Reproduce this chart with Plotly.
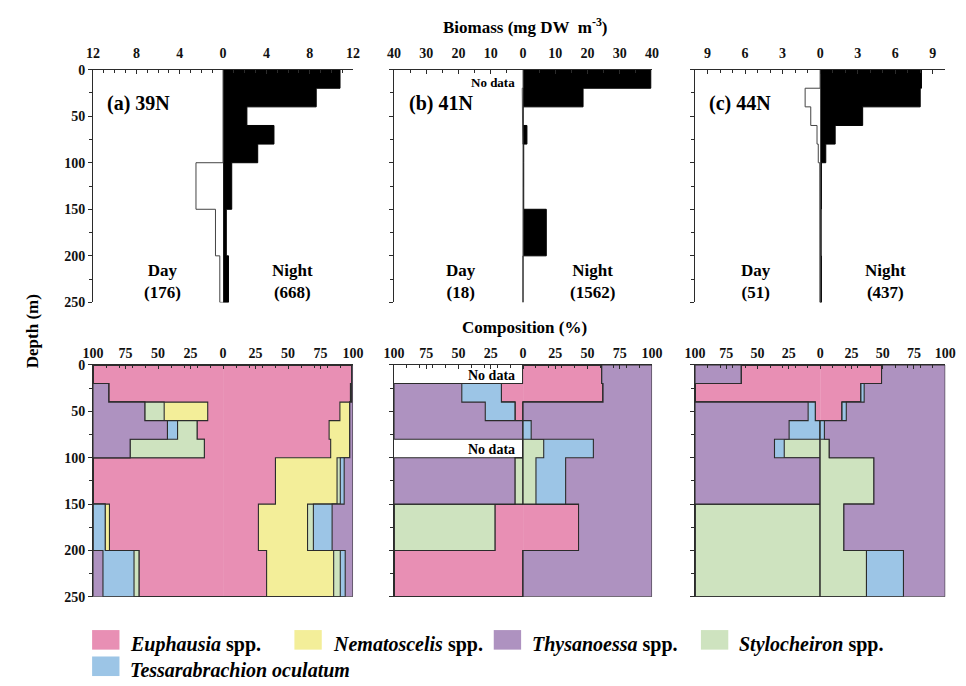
import plotly.graph_objects as go

# ---------------------------------------------------------------- data
depth_edges = [0, 20, 40, 60, 80, 100, 150, 200, 250]
depth_ticks = [0, 50, 100, 150, 200, 250]

stations = ["(a) 39N", "(b) 41N", "(c) 44N"]
day_totals = [176, 18, 51]          # integrated biomass, mg DW m-2
night_totals = [668, 1562, 437]

# Biomass (mg DW m-3) per depth layer
bio_day_39 = [0, 0, 0, 0, 0, 2.5, 0.7, 0.3]
bio_night_39 = [10.8, 8.6, 2.2, 4.7, 3.2, 0.8, 0.3, 0.5]
bio_day_41 = [0, 0.25, 0.15, 0.1, 0, 0.04, 0.08, 0.04]
bio_night_41 = [39.6, 18.6, 0.05, 1.2, 0.2, 0.2, 7.2, 0.0]
bio_day_44 = [0, 1.2, 0.75, 0.25, 0.15, 0.03, 0.02, 0.02]
bio_night_44 = [8.1, 8.0, 3.4, 1.2, 0.45, 0.1, 0.08, 0.1]

bio_max = [12, 40, 10]
bio_tickvals = [[-12, -8, -4, 0, 4, 8, 12],
                [-40, -30, -20, -10, 0, 10, 20, 30, 40],
                [-9, -6, -3, 0, 3, 6, 9]]
bio_ticktext = [["12", "8", "4", "0", "4", "8", "12"],
                ["40", "30", "20", "10", "0", "10", "20", "30", "40"],
                ["9", "6", "3", "0", "3", "6", "9"]]
bio_minor = [1, 5, 1]

comp_tickvals = [-100, -75, -50, -25, 0, 25, 50, 75, 100]
comp_ticktext = ["100", "75", "50", "25", "0", "25", "50", "75", "100"]

# Composition (%) per depth layer; all-zero layers have no data
euph_day_39 = [100, 88, 11.8, 20, 14.4, 100, 87.4, 64.7]
nema_day_39 = [0, 0, 33.5, 0, 0, 0, 3.3, 0]
stylo_day_39 = [0, 0, 14.9, 15, 57.1, 0, 0, 3.8]
tess_day_39 = [0, 0, 0, 7.8, 0, 0, 9.3, 23.9]
thys_day_39 = [0, 12, 39.8, 57.2, 28.5, 0, 0, 7.6]

euph_night_39 = [99, 98, 89.9, 81.6, 82.8, 40.3, 27.2, 33.5]
nema_night_39 = [0, 1, 7.6, 15.9, 14.7, 47.4, 37.8, 51.6]
stylo_night_39 = [0, 0, 0, 0, 0, 2.5, 4.5, 5.1]
tess_night_39 = [0, 0, 0, 0, 0, 3.0, 14.4, 3.8]
thys_night_39 = [1, 1, 2.5, 2.5, 2.5, 6.8, 16.1, 6.0]

euph_day_41 = [0, 16.8, 6.3, 0, 0, 0, 21.8, 100]
nema_day_41 = [0, 0, 0, 0, 0, 0, 0, 0]
stylo_day_41 = [0, 0, 0, 0, 0, 6.3, 78.2, 0]
tess_day_41 = [0, 30.7, 23.0, 0, 0, 0, 0, 0]
thys_day_41 = [0, 52.5, 70.7, 100, 0, 93.7, 0, 0]

euph_night_41 = [61, 62, 0, 0, 0, 0, 43, 0]
nema_night_41 = [0, 0, 0, 0, 0, 0, 0, 0]
stylo_night_41 = [0, 0, 0, 0, 16, 10, 0, 0]
tess_night_41 = [0, 0, 0, 6.3, 38.5, 23, 0, 0]
thys_night_41 = [39, 38, 100, 93.7, 45.5, 67, 57, 100]

euph_day_44 = [63.2, 100, 3.9, 0, 0, 0, 0, 0]
nema_day_44 = [0, 0, 0, 0, 0, 0, 0, 0]
stylo_day_44 = [0, 0, 0, 0, 28.7, 0, 100, 100]
tess_day_44 = [0, 0, 5.7, 24.8, 7.8, 0, 0, 0]
thys_day_44 = [36.8, 0, 90.4, 75.2, 63.5, 100, 0, 0]

euph_night_44 = [49.1, 32.6, 17.5, 0, 0, 0, 0, 0]
nema_night_44 = [0, 0, 0, 0, 0, 0, 0, 0]
stylo_night_44 = [0, 0, 0, 0, 7.3, 43, 19, 37]
tess_night_44 = [0, 2.6, 3.4, 3.4, 0, 0, 0, 29.6]
thys_night_44 = [50.9, 64.8, 79.1, 96.6, 92.7, 57, 81, 33.4]

species_names = ["<i>Euphausia</i> spp.", "<i>Nematoscelis</i> spp.",
                 "<i>Thysanoessa</i> spp.", "<i>Stylocheiron</i> spp.",
                 "<i>Tessarabrachion oculatum</i>"]
species_colors = {"euph": "#E88FB4", "nema": "#F3EE99", "thys": "#AE92C0",
                  "stylo": "#CEE3BF", "tess": "#9CC5E6"}

# ---------------------------------------------------------------- helpers
W, H = 966, 686
FONT = "Liberation Serif"
LINE = "#2b2b2b"


def px(x):
    return x / W


def py(y):
    return 1 - y / H


def step_path(vals, sign):
    """Step outline of a depth profile, closed back to x=0 at both ends."""
    xs, ys = [0], [depth_edges[0]]
    for i, v in enumerate(vals):
        xs += [sign * v, sign * v]
        ys += [depth_edges[i], depth_edges[i + 1]]
    xs.append(0)
    ys.append(depth_edges[-1])
    return xs, ys


x_domains = [[px(84), px(350)], [px(392), px(656)], [px(700), px(956)]]
top_domain = [py(302), py(64)]
bot_domain = [py(603), py(366)]

fig = go.Figure()

# ---------------------------------------------------------------- biomass
bio_day = [bio_day_39, bio_day_41, bio_day_44]
bio_night = [bio_night_39, bio_night_41, bio_night_44]
for k in range(3):
    ax = "" if k == 0 else str(k + 1)
    xs, ys = step_path(bio_night[k], 1)
    fig.add_trace(go.Scatter(x=xs, y=ys, mode="lines", fill="tozerox",
                             fillcolor="black", line=dict(color="black", width=1),
                             xaxis="x" + ax, yaxis="y" + ax, showlegend=False,
                             hoverinfo="skip"))
    xs, ys = step_path(bio_day[k], -1)
    fig.add_trace(go.Scatter(x=xs, y=ys, mode="lines", fill="tozerox",
                             fillcolor="white", line=dict(color="#444", width=1),
                             xaxis="x" + ax, yaxis="y" + ax, showlegend=False,
                             hoverinfo="skip"))

# ---------------------------------------------------------------- composition
comp = {
    0: {"day": [("euph", euph_day_39), ("nema", nema_day_39), ("stylo", stylo_day_39),
                ("tess", tess_day_39), ("thys", thys_day_39)],
        "night": [("euph", euph_night_39), ("nema", nema_night_39), ("stylo", stylo_night_39),
                  ("tess", tess_night_39), ("thys", thys_night_39)]},
    1: {"day": [("euph", euph_day_41), ("nema", nema_day_41), ("stylo", stylo_day_41),
                ("tess", tess_day_41), ("thys", thys_day_41)],
        "night": [("euph", euph_night_41), ("nema", nema_night_41), ("stylo", stylo_night_41),
                  ("tess", tess_night_41), ("thys", thys_night_41)]},
    2: {"day": [("euph", euph_day_44), ("nema", nema_day_44), ("stylo", stylo_day_44),
                ("tess", tess_day_44), ("thys", thys_day_44)],
        "night": [("euph", euph_night_44), ("nema", nema_night_44), ("stylo", stylo_night_44),
                  ("tess", tess_night_44), ("thys", thys_night_44)]},
}
for k in range(3):
    ax = str(k + 4)
    for side, sign in (("day", -1), ("night", 1)):
        cum = [0.0] * len(depth_edges[:-1])
        for j, (sp, vals) in enumerate(comp[k][side]):
            cum = [c + v for c, v in zip(cum, vals)]
            xs, ys = step_path(cum, sign)
            fig.add_trace(go.Scatter(
                x=xs, y=ys, mode="lines",
                fill="tozerox" if j == 0 else "tonextx",
                fillcolor=species_colors[sp],
                line=dict(color=LINE, width=1.1),
                xaxis="x" + ax, yaxis="y" + ax, showlegend=False, hoverinfo="skip"))

# ---------------------------------------------------------------- axes
tickfont = dict(family=FONT, size=14, color="#111", weight="bold")
layout_axes = {}
for i in range(6):
    k = i % 3
    top = i < 3
    n = "" if i == 0 else str(i + 1)
    if top:
        xr = [-bio_max[k], bio_max[k]]
        tv, tt, mdt = bio_tickvals[k], bio_ticktext[k], bio_minor[k]
    else:
        xr = [-100, 100]
        tv, tt, mdt = comp_tickvals, comp_ticktext, 10
    layout_axes["xaxis" + n] = dict(
        domain=x_domains[k], range=xr, side="top", anchor="y" + n,
        showline=True, linecolor=LINE, linewidth=1.3, mirror=False,
        ticks="inside", ticklen=4, tickcolor=LINE, tickwidth=1.3,
        tickmode="array", tickvals=tv, ticktext=tt, tickfont=tickfont,
        ticklabelstandoff=5 if top else 0,
        minor=dict(tickmode="linear", tick0=0, dtick=mdt, ticks="inside",
                   ticklen=3, tickcolor=LINE, tickwidth=1.2),
        showgrid=False, zeroline=False, fixedrange=True)
    layout_axes["yaxis" + n] = dict(
        domain=top_domain if top else bot_domain, range=[250, 0], anchor="x" + n,
        showline=True, linecolor=LINE, linewidth=1.3,
        ticks="outside", ticklen=4, tickcolor=LINE, tickwidth=1.3,
        tickmode="array", tickvals=depth_ticks, tickfont=tickfont,
        showticklabels=(k == 0),
        minor=dict(tickmode="linear", tick0=0, dtick=25, ticks="outside",
                   ticklen=3, tickcolor=LINE, tickwidth=1.2),
        showgrid=False, zeroline=False, fixedrange=True)
    # centre (zero) line of each panel
    layout_axes["yaxis" + str(i + 7)] = dict(
        overlaying="y" + n, anchor="free",
        position=(x_domains[k][0] + x_domains[k][1]) / 2,
        range=[250, 0], showline=True,
        linecolor=LINE if top else "rgba(70,40,60,0.6)", linewidth=1.2 if top else 1,
        ticks="outside" if top else "", ticklen=4, tickcolor=LINE,
        tickmode="array", tickvals=depth_ticks, showticklabels=False,
        showgrid=False, zeroline=False, fixedrange=True)

# ---------------------------------------------------------------- text
ann = []


def text(x, y, s, size, bold=True, xanchor="center", angle=0):
    ann.append(dict(x=px(x), y=py(y), xref="paper", yref="paper", text=s,
                    showarrow=False, xanchor=xanchor, yanchor="middle",
                    textangle=angle,
                    font=dict(family=FONT, size=size, color="black",
                              weight="bold" if bold else "normal")))


text(526, 19, "Biomass (mg DW  m<sup>-3</sup>)", 17)
text(525, 328, "Composition (%)", 17)
text(22, 331, "Depth (m)", 17, angle=-90)

label_x = [96, 405, 712]
day_x = [155, 460, 762]
night_x = [288, 595, 895]
for k in range(3):
    text(label_x[k], 99, stations[k], 20, xanchor="left")
    text(day_x[k], 281, "Day<br>(%d)" % day_totals[k], 17)
    text(night_x[k], 281, "Night<br>(%d)" % night_totals[k], 17)

text(518, 77, "No data", 13, xanchor="right")
text(518, 377, "No data", 14, xanchor="right")
text(518, 452, "No data", 14, xanchor="right")

# legend built from boxes and labels
shapes = []
legend_items = [("euph", 83, 637, 0), ("nema", 290, 637, 1), ("thys", 494, 637, 2),
                ("stylo", 706, 637, 3), ("tess", 83, 664, 4)]
for sp, x0, y0, idx in legend_items:
    shapes.append(dict(type="rect", xref="paper", yref="paper",
                       x0=px(x0), x1=px(x0 + 28), y0=py(y0 + 20), y1=py(y0),
                       fillcolor=species_colors[sp], line=dict(width=0)))
    dy = 15 if idx < 4 else 14
    text(x0 + 37, y0 + dy, species_names[idx], 20, xanchor="left")

fig.update_layout(
    width=W, height=H, margin=dict(l=0, r=0, t=0, b=0),
    paper_bgcolor="white", plot_bgcolor="rgba(0,0,0,0)",
    showlegend=False, annotations=ann, shapes=shapes, **layout_axes)

fig.write_html("out.html")
